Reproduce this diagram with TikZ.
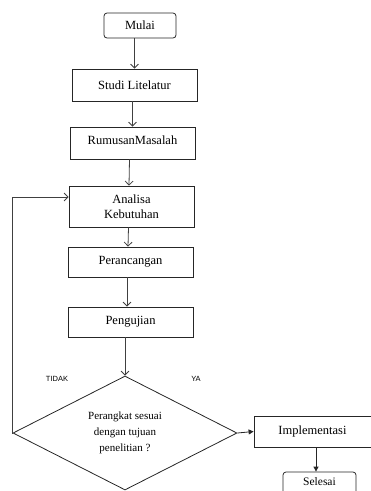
\documentclass[tikz,border=0pt]{standalone}
\usepackage{fontspec}
\setmainfont{Liberation Serif}
\newfontfamily\labelfont{Liberation Sans}
\usetikzlibrary{shapes.geometric,arrows.meta,calc}
\begin{document}
\begin{tikzpicture}[x=1pt,y=-1pt,
  box/.style={draw=black!85,line width=0.8pt,rectangle,minimum width=125pt,inner sep=0pt,font=\fontsize{12.5}{15}\selectfont,align=center},
  term/.style={box,rounded corners=3pt,minimum width=72pt,minimum height=25pt},
  dec/.style={draw=black!85,line width=0.8pt,diamond,aspect=2,inner sep=0pt,minimum width=224pt,minimum height=114pt,font=\fontsize{11}{16}\selectfont,align=center},
  link/.style={draw=black!75,line width=0.8pt,-{Straight Barb[length=4pt,width=8pt]}},
  flink/.style={draw=black!85,line width=0.8pt,-{Triangle[length=5pt,width=5pt]}},
  lbl/.style={font=\labelfont\fontsize{7.5}{9}\selectfont}]
\useasboundingbox (0,0) rectangle (371,491);
\clip (0,0) rectangle (371,491);
\node[term] (mulai) at (140,25.5) {Mulai};
\node[box,minimum height=32pt] (studi) at (134.5,85) {Studi Litelatur};
\node[box,minimum height=32pt,text depth=5pt] (rumusan) at (132.5,143) {RumusanMasalah};
\node[box,minimum height=41pt] (analisa) at (131.5,206.5) {Analisa\\Kebutuhan};
\node[box,minimum height=30pt,text depth=3pt] (perancangan) at (130.5,262) {Perancangan};
\node[box,minimum height=30pt] (pengujian) at (130.5,322) {Pengujian};
\node[dec] (cek) at (125,433) {Perangkat sesuai\\dengan tujuan\\penelitian ?};
\node[box,minimum width=117pt,minimum height=31pt] (impl) at (312.5,431.5) {Implementasi};
\node[term,minimum width=73pt,minimum height=28pt,text depth=9pt,font=\fontsize{11.5}{14}\selectfont] (selesai) at (319.5,486) {Selesai};
\node[lbl] (tidak) at (57,379) {TIDAK};
\node[lbl] (ya) at (196,379) {YA};
\coordinate (loopL) at (12,197);
\coordinate (ia) at ($(impl.south)+(3.5,0)$);
\path[link] (mulai.south -| studi.north) -- (studi.north);
\path[link] (studi.south -| rumusan.north) -- (rumusan.north);
\path[link] ($(rumusan.south)+(-3,0)$) -- ($(analisa.north)+(-2.5,0)$);
\path[link] ($(analisa.south)+(-3,0)$) -- ($(perancangan.north)+(-2.5,0)$);
\path[link] ($(perancangan.south)+(-3.5,0)$) -- ($(pengujian.north)+(-3.5,0)$);
\path[link] ($(pengujian.south)+(-5.5,0)$) -- (cek.north);
\path[link] (cek.west) -- (cek.west -| loopL) -- (loopL) -- (loopL -| analisa.west);
\path[flink] (cek.east) -- (impl.west);
\path[flink] (ia) -- (ia |- selesai.north);
\end{tikzpicture}
\end{document}
